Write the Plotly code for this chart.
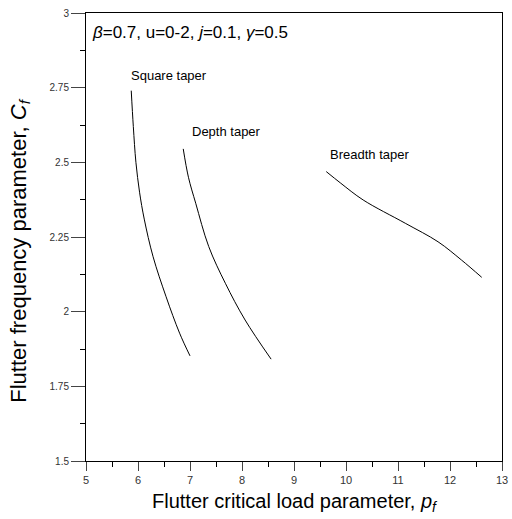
import plotly.graph_objects as go

# Data
square_x = [5.87, 5.91, 5.96, 6.03, 6.12, 6.29, 6.54, 6.80, 7.00]
square_y = [2.740, 2.620, 2.500, 2.400, 2.310, 2.184, 2.050, 1.928, 1.852]
depth_x = [6.87, 6.97, 7.11, 7.36, 7.68, 8.06, 8.56]
depth_y = [2.545, 2.450, 2.363, 2.218, 2.095, 1.972, 1.841]
breadth_x = [9.62, 9.90, 10.33, 11.14, 11.77, 12.22, 12.61]
breadth_y = [2.469, 2.430, 2.374, 2.296, 2.234, 2.173, 2.115]

x_ticks = [5, 6, 7, 8, 9, 10, 11, 12, 13]
y_ticks = [1.5, 1.75, 2, 2.25, 2.5, 2.75, 3]
y_labels = ["1.5", "1.75", "2", "2.25", "2.5", "2.75", "3"]

fig = go.Figure()
for xs, ys in [(square_x, square_y), (depth_x, depth_y), (breadth_x, breadth_y)]:
    fig.add_trace(go.Scatter(x=xs, y=ys, mode="lines",
                             line=dict(color="black", width=1, shape="spline", smoothing=1.0),
                             showlegend=False, hoverinfo="skip"))

font = "Liberation Sans, Arial, sans-serif"
ann = [
    dict(x=6.6, y=2.76, text="Square taper", xanchor="center", yanchor="bottom"),
    dict(x=7.7, y=2.57, text="Depth taper", xanchor="center", yanchor="bottom"),
    dict(x=10.45, y=2.495, text="Breadth taper", xanchor="center", yanchor="bottom"),
]
annotations = [dict(a, showarrow=False, font=dict(family=font, size=13, color="black")) for a in ann]
annotations.append(dict(x=5.08, y=2.935, xanchor="left", yanchor="middle", showarrow=False,
                        text="<i>β</i>=0.7, u=0-2, <i>j</i>=0.1, <i>γ</i>=0.5",
                        font=dict(family=font, size=17, color="black")))
annotations.append(dict(xref="paper", yref="paper", x=-0.158, y=0.47, xanchor="center", yanchor="middle",
                        textangle=-90, showarrow=False,
                        text="Flutter frequency parameter, <i>C<sub>f</sub></i>",
                        font=dict(family=font, size=22, color="black")))

fig.update_layout(
    width=512, height=519,
    margin=dict(l=86, r=4, t=13, b=58),
    plot_bgcolor="white", paper_bgcolor="white",
    font=dict(family=font, color="black"),
    annotations=annotations,
    xaxis=dict(range=[5, 13], tickvals=x_ticks, ticks="outside", ticklen=9, tickwidth=1,
               showline=True, linecolor="black", linewidth=1, mirror=True, showgrid=False, zeroline=False,
               tickfont=dict(size=11, color="#333"), ticklabeloverflow="allow",
               minor=dict(dtick=0.5, ticks="outside", ticklen=5, tickcolor="black"),
               title=dict(text="Flutter critical load parameter, <i>p<sub>f</sub></i>",
                          font=dict(size=20), standoff=8)),
    yaxis=dict(range=[1.5, 3], tickvals=y_ticks, ticktext=y_labels, ticks="outside", ticklen=14, tickwidth=1,
               showline=True, linecolor="black", linewidth=1, mirror=True, showgrid=False, zeroline=False,
               tickfont=dict(size=10, color="#333"),
               minor=dict(dtick=0.125, ticks="outside", ticklen=5, tickcolor="black")),
)

fig.write_html("out.html")
